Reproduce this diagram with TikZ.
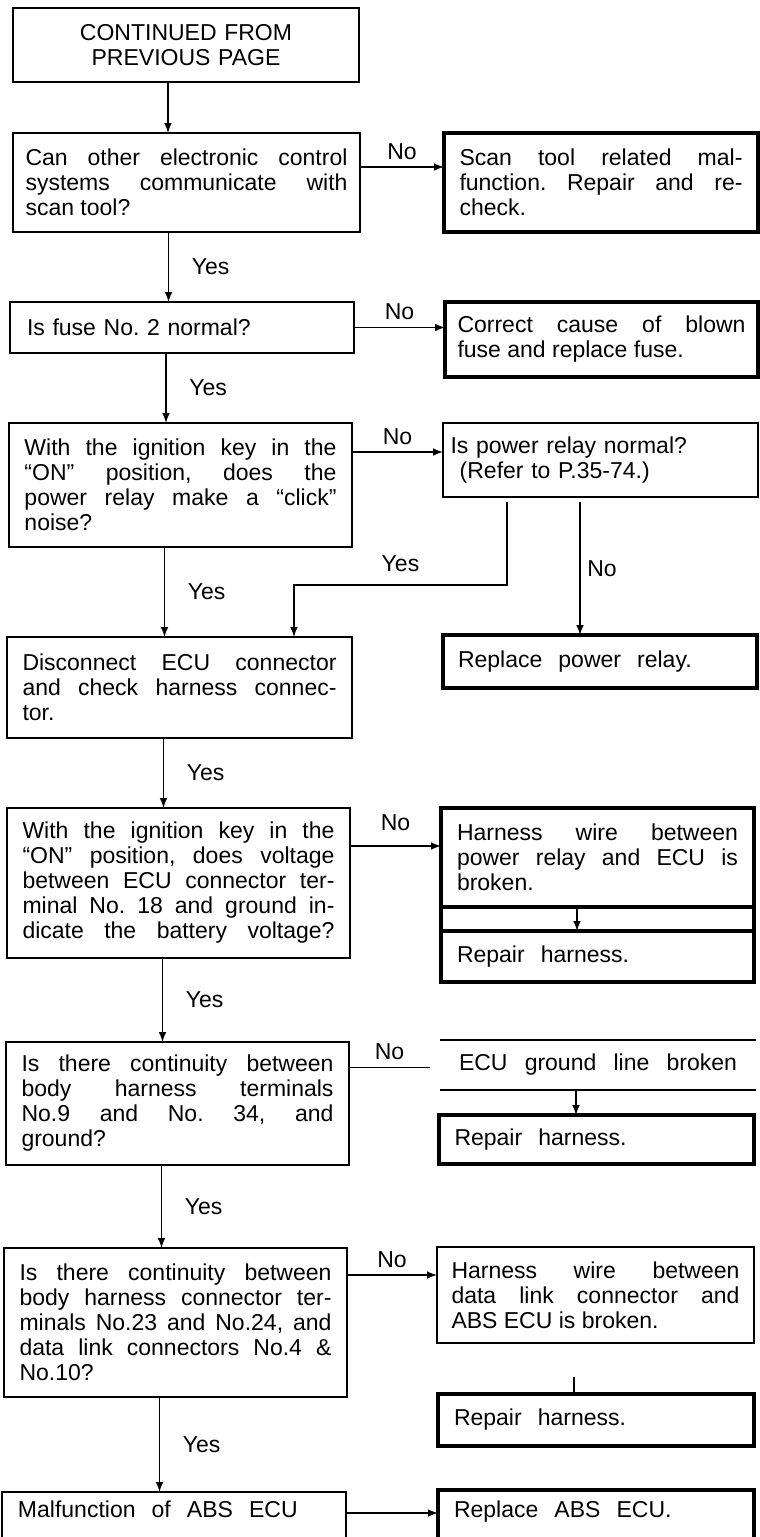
\documentclass[tikz,border=0pt]{standalone}
\usepackage{fontspec}
\setmainfont{Liberation Sans}
\usetikzlibrary{arrows}
\tolerance=10000
\hbadness=10000
\frenchspacing
\tikzset{
    cell/.style={
        anchor=north west,
        inner sep=0pt,
        outer sep=0pt,
        align=justify
    },
    stepbox/.style={cell, draw, line width=0.8pt},
    fixbox/.style={cell, draw, line width=1.8pt},
    wide/.style={execute at begin node={\spaceskip=0.7em\relax}},
    fullline/.style={execute at begin node={\parfillskip=0pt\relax}},
    flow/.style={->, >=latex, line width=0.7pt}
}

\begin{document}
\begin{tikzpicture}[x=0.5pt, y=-0.5pt, font=\fontsize{11.5}{12.5}\selectfont]
  \useasboundingbox (0,0) rectangle (760,1537);

  % left column: the checks
  \node[stepbox, align=center, minimum width=173pt, minimum height=37pt, text width=160pt] (start) at (13,8)
    {CONTINUED FROM\\PREVIOUS PAGE};
  \node[stepbox, minimum width=173.5pt, minimum height=49.5pt, text width=161pt] (q1) at (13,133)
    {Can other electronic control\linebreak systems communicate with\linebreak scan tool?};
  \node[stepbox, align=left, minimum width=172pt, minimum height=25.5pt, text width=155pt] (q2) at (10,302)
    {Is fuse No. 2 normal?};
  \node[stepbox, minimum width=171.5pt, minimum height=62pt, text width=156pt] (q3) at (9,423)
    {With the ignition key in the\linebreak “ON” position, does the\linebreak power relay make a “click”\linebreak noise?};
  \node[stepbox, minimum width=172.5pt, minimum height=50.5pt, text width=157pt] (q5) at (7,637)
    {Disconnect ECU connector\linebreak and check harness connec-\linebreak tor.};
  \node[stepbox, fullline, minimum width=171.5pt, minimum height=75pt, text width=156pt] (q6) at (7,808)
    {With the ignition key in the\linebreak “ON” position, does voltage\linebreak between ECU connector ter-\linebreak minal No. 18 and ground in-\linebreak dicate the battery voltage?};
  \node[stepbox, minimum width=171.5pt, minimum height=61.5pt, text width=156pt] (q7) at (6,1042)
    {Is there continuity between\linebreak body harness terminals\linebreak No.9 and No. 34, and\linebreak ground?};
  \node[stepbox, minimum width=171.5pt, minimum height=74.5pt, text width=156pt] (q8) at (4,1248)
    {Is there continuity between\linebreak body harness connector ter-\linebreak minals No.23 and No.24, and\linebreak data link connectors No.4 \&\linebreak No.10?};
  \node[stepbox, wide, align=left, minimum width=172pt, text width=156pt, text height=12.5pt, text depth=15pt] (endq) at (2,1492)
    {Malfunction of ABS ECU};

  % right column: the remedies
  \node[fixbox, minimum width=157pt, minimum height=49.5pt, text width=141.5pt] (scanfix) at (444,133)
    {Scan tool related mal-\linebreak function. Repair and re-\linebreak check.};
  \node[fixbox, minimum width=156.5pt, minimum height=37.5pt, text width=144pt] (fusefix) at (445,302)
    {Correct cause of blown\linebreak fuse and replace fuse.};
  \node[stepbox, align=left, minimum width=157.5pt, minimum height=37pt, text width=150pt] (q4) at (443,423)
    {Is power relay normal?\\\hspace*{0.4em}(Refer to P.35-74.)};
  \node[fixbox, wide, align=left, minimum width=157pt, minimum height=26.5pt, text width=142pt] (relayfix) at (443,635)
    {Replace power relay.};
  \node[fixbox, minimum width=156.5pt, minimum height=49.5pt, text width=140.5pt] (brokenA) at (441,808)
    {Harness wire between\linebreak power relay and ECU is\linebreak broken.};
  \node[fixbox, wide, align=left, minimum width=156.5pt, minimum height=25.5pt, text width=140.5pt] (repairA) at (441,931)
    {Repair harness.};
  \node[cell, fullline, minimum width=158pt, minimum height=25pt, text width=139pt] (gnd) at (440,1040)
    {ECU ground line broken};
  \node[fixbox, wide, align=left, minimum width=157.5pt, minimum height=24.5pt, text width=142pt] (repairB) at (439,1115)
    {Repair harness.};
  \node[stepbox, minimum width=158.5pt, minimum height=48pt, text width=144pt] (linkbroken) at (437,1247)
    {Harness wire between\linebreak data link connector and\linebreak ABS ECU is broken.};
  \node[fixbox, wide, align=left, minimum width=158pt, minimum height=26pt, text width=142pt] (repairC) at (438,1394)
    {Repair harness.};
  \node[fixbox, wide, align=left, minimum width=158pt, text width=142pt, text height=13.5pt, text depth=15pt] (replaceecu) at (438,1490)
    {Replace ABS ECU.};

  % Yes branches down the left
  \draw[flow] ([xshift=-9pt]start.south) -- ([xshift=-9pt]start.south |- q1.north);
  \draw[flow] ([xshift=-9pt]q1.south) -- node[right=8pt] {Yes} ([xshift=-9pt]q1.south |- q2.north);
  \draw[flow] ([xshift=-8pt]q2.south) -- node[right=8pt] {Yes} ([xshift=-8pt]q2.south |- q3.north);
  \draw[flow] ([xshift=-8pt]q3.south) -- node[right=8pt] {Yes} ([xshift=-8pt]q3.south |- q5.north);
  \draw[flow] ([xshift=-8pt]q5.south) -- node[right=8pt] {Yes} ([xshift=-8pt]q5.south |- q6.north);
  \draw[flow] ([xshift=-8pt]q6.south) -- node[right=8pt] {Yes} ([xshift=-8pt]q6.south |- q7.north);
  \draw[flow] ([xshift=-8pt]q7.south) -- node[right=8pt] {Yes} ([xshift=-8pt]q7.south |- q8.north);
  \draw[flow] ([xshift=-8pt]q8.south) -- node[right=8pt] {Yes} ([xshift=-8pt]q8.south |- endq.north);

  % No branches to the right
  \draw[flow] ([yshift=7.75pt]q1.east) -- node[above] {No} ([yshift=7.75pt]q1.east -| scanfix.west);
  \draw[flow] (q2.east) -- node[above] {No} (q2.east -| fusefix.west);
  \draw[flow] ([yshift=16.5pt]q3.east) -- node[above] {No} ([yshift=16.5pt]q3.east -| q4.west);
  \draw[flow] ([yshift=18.5pt]q6.east) -- node[above=4pt] {No} ([yshift=18.5pt]q6.east -| brokenA.west);
  \draw[line width=0.8pt] ([yshift=18pt]q7.east) -- node[above] {No} ([yshift=18pt, xshift=-5pt]q7.east -| gnd.west);
  \draw[flow] ([yshift=23.75pt]q8.east) -- node[above] {No} ([yshift=23.75pt]q8.east -| linkbroken.west);
  \draw[flow] ([yshift=2pt]endq.base east) -- ([yshift=2pt]endq.base east -| replaceecu.west);

  % power relay check
  \draw[flow] ([xshift=-46.75pt, yshift=-2.5pt]q4.south) |- node[pos=0.75, above=3pt] {Yes}
    ([xshift=57.25pt, yshift=26pt]q5.north) -- ([xshift=57.25pt]q5.north);
  \draw[flow] ([xshift=-10.25pt, yshift=-2.5pt]q4.south) -- node[right] {No}
    ([xshift=-10.25pt]q4.south |- relayfix.north);

  % stacked remedies
  \draw[line width=1.8pt] (brokenA.south west) -- (repairA.north west);
  \draw[line width=1.8pt] (brokenA.south east) -- (repairA.north east);
  \draw[flow] ([xshift=-10.25pt]brokenA.south) -- ([xshift=-10.25pt]repairA.north);
  \draw[line width=1pt] (gnd.north west) -- (gnd.north east);
  \draw[line width=1pt] (gnd.south west) -- (gnd.south east);
  \draw[flow] ([xshift=-11pt]gnd.south) -- ([xshift=-11pt]gnd.south |- repairB.north);
  \draw[line width=0.8pt] ([xshift=-11pt, yshift=8.5pt]repairC.north) -- ([xshift=-11pt]repairC.north);
\end{tikzpicture}
\end{document}
